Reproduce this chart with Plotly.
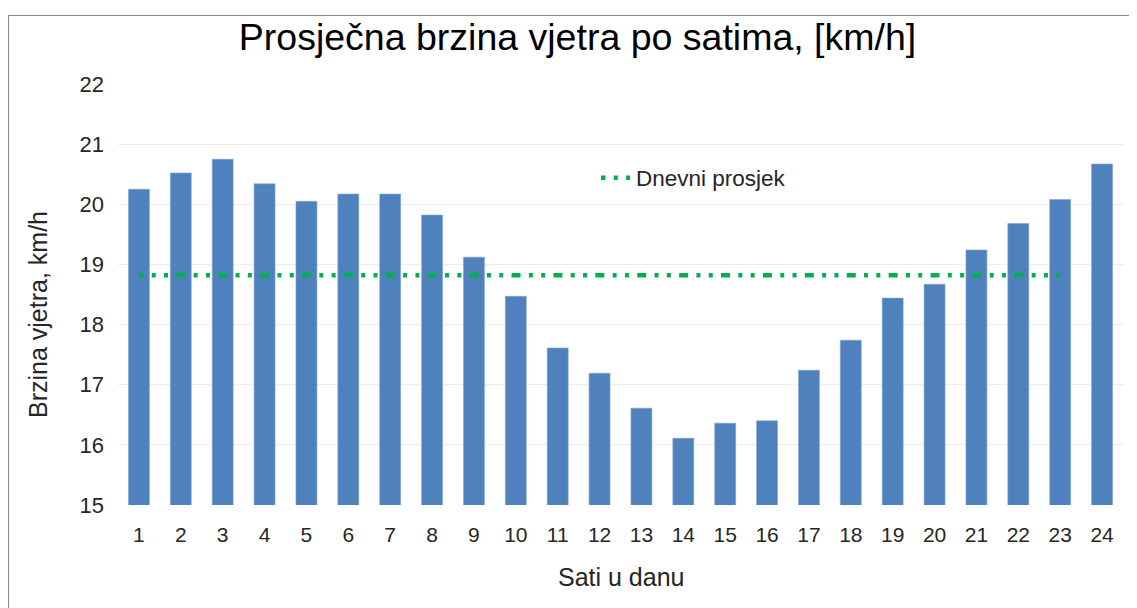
import plotly.graph_objects as go

hours = list(range(1, 25))
speed = [20.25, 20.52, 20.75, 20.34, 20.05, 20.17, 20.17, 19.82, 19.12, 18.47,
         17.61, 17.19, 16.61, 16.11, 16.36, 16.40, 17.24, 17.74, 18.44, 18.67,
         19.24, 19.68, 20.08, 20.67]
avg_x = [1, 23]
avg_y = [18.82, 18.82]
y_ticks = [15, 16, 17, 18, 19, 20, 21, 22]

title_text = "Prosječna brzina vjetra po satima, [km/h]"
x_title = "Sati u danu"
y_title = "Brzina vjetra, km/h"
legend_name = "Dnevni prosjek"

FONT = "Liberation Sans, Arial, sans-serif"

# page body has an 8px offset; positions below are target screen pixels
OFF = 8
W, H = 1137 - OFF, 608 - OFF
L, R, T, B = 118 - OFF, 14, 84 - OFF, 103
pw, ph = W - L - R, H - T - B

def px_x(p):
    return (p - OFF - L) / pw

def px_y(p):
    return (H - B - (p - OFF)) / ph

fig = go.Figure()
fig.add_trace(go.Bar(
    x=hours, y=speed, width=0.5,
    marker=dict(color="#4F81BD", line=dict(color="#7FA3D0", width=0.6)),
    showlegend=False, hoverinfo="x+y",
))
fig.add_trace(go.Scatter(
    x=avg_x, y=avg_y, mode="lines", name=legend_name,
    line=dict(color="#00B050", width=4.5,
              dash="4.5px,8.3px,4px,8.3px,4px,8.3px,4.5px,0px"),
))

fig.update_layout(
    width=W, height=H,
    margin=dict(l=L, r=R, t=T, b=B),
    paper_bgcolor="white", plot_bgcolor="white",
    font=dict(family=FONT, color="#262626"),
    title=dict(text=title_text, x=(577.5 - OFF) / W, xanchor="center",
               y=1 - (37 - OFF) / H, yanchor="middle", yref="container",
               font=dict(size=37.5, color="#000000", family=FONT)),
    xaxis=dict(range=[0.5, 24.5], tickmode="array", tickvals=hours,
               ticktext=[str(h) for h in hours], showgrid=False,
               zeroline=False, showline=False, ticks="",
               tickfont=dict(size=21, color="#262626"),
               ticklabelstandoff=15),
    yaxis=dict(range=[15, 22], tickmode="array", tickvals=y_ticks,
               showgrid=True, gridcolor="#EDEDED", gridwidth=1,
               zeroline=False, showline=False, ticks="",
               tickfont=dict(size=22, color="#262626"),
               ticklabelstandoff=13),
    legend=dict(x=px_x(596), y=px_y(178), xanchor="left", yanchor="middle",
                bgcolor="rgba(0,0,0,0)", font=dict(size=22.5, color="#262626"),
                itemwidth=30),
    annotations=[
        dict(text=x_title, xref="paper", yref="paper", x=px_x(621), y=px_y(577),
             xanchor="center", yanchor="middle", showarrow=False,
             font=dict(size=25, color="#262626")),
        dict(text=y_title, xref="paper", yref="paper", x=px_x(38), y=px_y(315),
             xanchor="center", yanchor="middle", showarrow=False, textangle=-90,
             font=dict(size=25, color="#262626")),
    ],
    shapes=[
        dict(type="rect", xref="paper", yref="paper",
             x0=px_x(8.5), x1=px_x(1160), y0=px_y(660), y1=px_y(15.5),
             line=dict(color="#8C8C8C", width=1.2), fillcolor="rgba(0,0,0,0)",
             layer="below"),
    ],
)

fig.write_html("out.html")
